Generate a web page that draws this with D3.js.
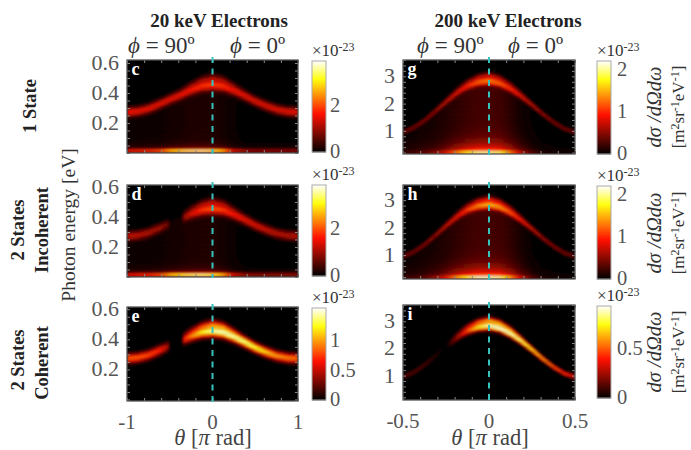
<!DOCTYPE html>
<html><head><meta charset="utf-8">
<style>
html,body{margin:0;padding:0;background:#fff}
svg{display:block}
text{font-family:"Liberation Serif",serif}
</style>
<script src="https://cdn.jsdelivr.net/npm/d3@7"></script>
</head><body><svg id="c" width="691" height="450"></svg>
<script>
// --- data ---
const thetaKnots20  = [-1,-.875,-.75,-.625,-.52,-.5,-.36,-.33,-.25,-.125,0,.125,.25,.375,.5,.625,.75,.875,1];
const thetaKnots200 = [-.5,-.4375,-.375,-.3125,-.26,-.25,-.18,-.165,-.125,-.0625,0,.0625,.125,.1875,.25,.3125,.375,.4375,.5];
const ridge20  = [.272,.278,.295,.325,.352,.358,.395,.405,.43,.46,.472,.46,.425,.385,.345,.315,.29,.276,.272];
const ridge200 = [.95,1.12,1.38,1.72,2.02,2.08,2.46,2.53,2.7,2.86,2.92,2.82,2.6,2.3,1.96,1.62,1.32,1.08,.95];
const sigma20  = [.02,.02,.02,.02,.02,.02,.021,.021,.022,.023,.024,.023,.022,.021,.02,.02,.02,.02,.02];
const sigma200 = [.05,.05,.055,.06,.07,.07,.08,.08,.085,.09,.095,.09,.085,.075,.065,.055,.05,.05,.05];
const split20  = [0,0,0,0,0,0,.004,.005,.008,.013,.016,.013,.007,.002,0,0,0,0,0];
const split200 = [0,0,0,0,.01,.01,.03,.035,.05,.07,.08,.07,.05,.025,0,0,0,0,0];
const ampC = [1.55,1.5,1.45,1.42,1.4,1.4,1.42,1.45,1.5,1.65,1.75,1.7,1.55,1.5,1.45,1.45,1.45,1.5,1.55];
const ampD = [1.2,1.15,1.05,.95,.6,0,.0,.85,1.25,1.65,1.85,1.75,1.6,1.5,1.4,1.3,1.2,1.15,1.2];
const ampE = [.85,.85,.8,.72,.45,0,0,.7,.95,1.25,1.45,1.5,1.45,1.4,1.3,1.15,1.0,.95,.9];
const ampG = [.42,.42,.45,.5,.56,.58,.68,.7,.8,1.0,1.1,1.0,.88,.76,.66,.56,.5,.45,.42];
const ampH = [.42,.42,.45,.5,.58,.6,.72,.75,.9,1.15,1.3,1.2,1.02,.85,.72,.6,.52,.46,.42];
const ampI = [.16,.14,.12,.07,0,0,.28,.32,.5,.75,.9,.93,.9,.82,.72,.62,.52,.44,.38];
const bandC = [1.6,1.7,1.8,2.0,2.6,2.8,3.2,3.3,3.4,3.5,3.3,2.7,1.5,1.1,1.0,1.0,1.0,1.0,1.0];
const bandD = [1.6,1.7,1.8,2.0,2.6,2.8,3.2,3.3,3.4,3.5,3.3,2.7,1.5,1.1,1.0,1.0,1.0,1.0,1.0];
const bandE = new Array(19).fill(0);
const bandG = [.2,.25,.35,.5,.75,.85,1.35,1.45,1.7,1.95,1.95,1.85,1.3,.7,.35,.15,.1,.08,.05];
const bandH = [.2,.25,.35,.55,.8,.9,1.45,1.55,1.8,2.05,2.05,1.95,1.4,.75,.35,.15,.1,.08,.05];
const bandI = new Array(19).fill(0);
const floorC = [.08,.08,.09,.1,.12,.13,.16,.17,.19,.2,.2,.14,.06,.01,0,0,0,0,0];
const floorD = [.08,.08,.09,.1,.12,.13,.16,.17,.19,.2,.2,.14,.06,.01,0,0,0,0,0];
const floorE = new Array(19).fill(0);
const floorG = [.04,.05,.07,.09,.12,.13,.18,.19,.22,.25,.26,.24,.16,.07,.02,0,0,0,0];
const floorH = [.04,.05,.07,.09,.12,.13,.18,.19,.22,.25,.26,.24,.18,.09,.02,0,0,0,0];
const floorI = new Array(19).fill(0);
const ticksLeftX = [-1,0,1], ticksRightX = [-.5,0,.5];
const ticksLeftY = [.2,.4,.6], ticksRightY = [1,2,3];
const rowLabels = [["1 State"],["2 States","Incoherent"],["2 States","Coherent"]];

const hot = d3.scaleLinear().domain([0,.42,.8,1]).range(["#000000","#ff1000","#ffff10","#ffffff"]).clamp(true);
const svg = d3.select("#c");

const panels = [
 {l:"c",x:[127,298],y:[60,153],th:thetaKnots20,e:[0,.62],rid:ridge20,sig:sigma20,spl:split20,amp:ampC,band:bandC,flo:floorC,cmax:3.87,cb:[61,152],cbT:[0,2],yT:ticksLeftY,xT:null,bw:.009,gs:.024,gk:.35,mult:.05},
 {l:"d",x:[127,298],y:[185,277],th:thetaKnots20,e:[0,.613],rid:ridge20,sig:sigma20,spl:split20,amp:ampD,band:bandD,flo:floorD,cmax:3.83,cb:[185,276],cbT:[0,2],yT:ticksLeftY,xT:null,bw:.009,gs:.024,gk:.35,mult:.05},
 {l:"e",x:[127,298],y:[307,401],th:thetaKnots20,e:[-.01,.615],rid:ridge20,sig:sigma20,spl:split20,amp:ampE,band:bandE,flo:floorE,cmax:1.55,cb:[308,400],cbT:[0,.5,1],yT:ticksLeftY,xT:ticksLeftX,bw:.006,gs:.03,gk:0,mult:.05},
 {l:"g",x:[403,575],y:[60,154],th:thetaKnots200,e:[.15,3.6],rid:ridge200,sig:sigma200,spl:split200,amp:ampG,band:bandG,flo:floorG,cmax:2.2,cb:[61,154],cbT:[0,1,2],yT:ticksRightY,xT:null,bw:.055,gs:.27,gk:.6,mult:.2},
 {l:"h",x:[403,575],y:[185,279],th:thetaKnots200,e:[.13,3.55],rid:ridge200,sig:sigma200,spl:split200,amp:ampH,band:bandH,flo:floorH,cmax:2.2,cb:[186,279],cbT:[0,1,2],yT:ticksRightY,xT:null,bw:.055,gs:.27,gk:.6,mult:.2},
 {l:"i",x:[403,575],y:[305,400],th:thetaKnots200,e:[.1,3.6],rid:ridge200,sig:sigma200,spl:split200,amp:ampI,band:bandI,flo:floorI,cmax:.92,cb:[306,398],cbT:[0,.5],yT:ticksRightY,xT:ticksRightX,bw:.05,gs:.28,gk:0,mult:.2}
];

const defs = svg.append("defs");
defs.append("filter").attr("id","soft").attr("x","-5%").attr("y","-5%").attr("width","110%").attr("height","110%")
  .append("feGaussianBlur").attr("stdDeviation",0.9);

const gauss = (x,s)=>Math.exp(-.5*x*x/(s*s));

panels.forEach((p,i)=>{
  const X = d3.scaleLinear().domain(d3.extent(p.th)).range(p.x);
  const Y = d3.scaleLinear().domain(p.e).range([p.y[1],p.y[0]]);
  const look = a => d3.scaleLinear().domain(p.th).range(a);
  const fR=look(p.rid),fS=look(p.sig),fD=look(p.spl),fA=look(p.amp),fB=look(p.band),fF=look(p.flo);
  const color = v => hot(v/p.cmax);
  const field = (t,E)=>{
    const c=fR(t),s=fS(t),d=fD(t),a=fA(t);
    const rid=a*Math.max(gauss(E-(c-d),s),.72*gauss(E-(c+d),s));
    const E0=p.e[0]+(p.mult*.3);
    const b=fB(t);
    const band=b*gauss(E-E0,p.bw);
    const glow=b*p.gk*Math.exp(-Math.max(0,E-E0)/p.gs);
    const below=fF(t)*(E<c?1:Math.exp(-(E-c)/(s*.6)));
    return rid+Math.max(band,glow)+below;
  };
  const cols=d3.range(p.x[0],p.x[1],1.5), rows=d3.range(p.y[0],p.y[1],1.25);
  const cells=[];
  cols.forEach(px=>rows.forEach(py=>{
    const t=X.invert(px+.75),E=Y.invert(py+.625);
    const v=field(t,E);
    if(v>.0015*p.cmax) cells.push({t,E,v});
  }));
  const clipId="clip"+p.l;
  defs.append("clipPath").attr("id",clipId).append("rect")
    .attr("x",p.x[0]).attr("y",p.y[0]).attr("width",p.x[1]-p.x[0]).attr("height",p.y[1]-p.y[0]);
  const g=svg.append("g").attr("class","panel");
  g.append("rect").attr("x",p.x[0]).attr("y",p.y[0]).attr("width",p.x[1]-p.x[0]).attr("height",p.y[1]-p.y[0]).attr("fill","#000");
  g.append("g").attr("clip-path",`url(#${clipId})`).append("g").attr("filter","url(#soft)")
    .selectAll("rect").data(cells).join("rect")
    .attr("x",d=>X(d.t)-.75).attr("y",d=>Y(d.E)-.625).attr("width",1.8).attr("height",1.55)
    .attr("fill",d=>color(d.v));

  // axes: inward ticks on all four sides
  const xMajor=d3.range(-10,11).map(k=>k*(d3.max(p.th)/5)).filter(v=>Math.abs(v)<=d3.max(p.th)+1e-9);
  const yMinor=d3.range(Math.ceil(p.e[0]/p.mult),Math.floor(p.e[1]/p.mult)+1).map(k=>k*p.mult);
  const tickStyle=s=>{s.selectAll(".domain").remove();s.selectAll("line").attr("stroke","#8a8a8a").attr("stroke-width",1);s.selectAll("text").remove();};
  g.append("g").attr("transform",`translate(0,${p.y[1]})`).call(d3.axisBottom(X).tickValues(xMajor).tickSize(-3)).call(tickStyle);
  g.append("g").attr("transform",`translate(0,${p.y[0]})`).call(d3.axisTop(X).tickValues(xMajor).tickSize(-3)).call(tickStyle);
  g.append("g").attr("transform",`translate(${p.x[0]},0)`).call(d3.axisLeft(Y).tickValues(yMinor).tickSize(-3)).call(tickStyle);
  g.append("g").attr("transform",`translate(${p.x[1]},0)`).call(d3.axisRight(Y).tickValues(yMinor).tickSize(-3)).call(tickStyle);
  g.append("rect").attr("x",p.x[0]).attr("y",p.y[0]).attr("width",p.x[1]-p.x[0]).attr("height",p.y[1]-p.y[0])
    .attr("fill","none").attr("stroke","#555").attr("stroke-width",1.3);

  // tick labels
  g.selectAll(".yl").data(p.yT).join("text").attr("class","yl")
    .attr("x",p.x[0]-8).attr("y",d=>Y(d)).attr("dy","0.32em").attr("text-anchor","end")
    .attr("font-size",22).attr("fill","#555").text(d=>d);
  if(p.xT) g.selectAll(".xl").data(p.xT).join("text").attr("class","xl")
    .attr("x",d=>X(d)).attr("y",p.y[1]+28).attr("text-anchor","middle")
    .attr("font-size",21).attr("fill","#555").text(d=>d);

  // dashed marker at theta = 0
  g.append("line").attr("x1",X(0)).attr("x2",X(0)).attr("y1",p.y[0]-3).attr("y2",p.y[1]+1)
    .attr("stroke","#36c3c0").attr("stroke-width",2).attr("stroke-dasharray","6,5.5");

  // panel letter
  g.append("text").attr("x",p.x[0]+4.5).attr("y",p.y[0]+15).attr("font-size",18).attr("font-weight","bold").attr("fill","#fff").text(p.l);

  // colour bar
  const cx=i<3?[312,326]:[597,611];
  const CB=d3.scaleLinear().domain([0,p.cmax]).range([p.cb[1],p.cb[0]]);
  const cbVals=d3.range(p.cb[0],p.cb[1],1).map(py=>CB.invert(py+.5));
  const cg=svg.append("g");
  cg.selectAll("rect").data(cbVals).join("rect")
    .attr("x",cx[0]).attr("width",cx[1]-cx[0]).attr("y",d=>CB(d)-.5).attr("height",1.4).attr("fill",d=>color(d));
  cg.append("rect").attr("x",cx[0]).attr("y",p.cb[0]).attr("width",cx[1]-cx[0]).attr("height",p.cb[1]-p.cb[0])
    .attr("fill","none").attr("stroke","#aaa").attr("stroke-width",1);
  cg.selectAll(".cl").data(p.cbT).join("text").attr("class","cl")
    .attr("x",cx[1]+(i<3?4:6)).attr("y",d=>CB(d)-(d===0?1:0)).attr("dy","0.32em")
    .attr("font-size",20.5).attr("fill","#555").text(d=>d);
  const mx=cg.append("text").attr("x",cx[0]).attr("y",p.cb[0]-5).attr("font-size",17).attr("fill","#333");
  mx.append("tspan").text("×10");
  mx.append("tspan").attr("dy",-5).attr("font-size",12).text("-23");

  // right-hand quantity labels
  if(i>=3){
    const cy=[107,233,352][i-3];
    svg.append("text").attr("transform",`translate(661,${cy}) rotate(-90)`).attr("text-anchor","middle")
      .attr("font-size",20.5).attr("font-style","italic").attr("fill","#333").text("dσ /dΩdω");
    const b=svg.append("text").attr("transform",`translate(684,${cy}) rotate(-90)`).attr("text-anchor","middle")
      .attr("font-size",17).attr("fill","#333");
    [["[m",0],["2",-5],["sr",5],["-1",-5],["eV",5],["-1",-5],["]",5]].forEach(([s,dy])=>{
      b.append("tspan").attr("dy",dy).attr("font-size",dy<0?12:17).text(s);
    });
  }
});

// titles
const boldTitle=(x,s)=>svg.append("text").attr("x",x).attr("y",27).attr("text-anchor","middle").attr("font-size",19).attr("font-weight","bold").attr("fill","#222").text(s);
boldTitle(219,"20 keV Electrons");
boldTitle(508,"200 keV Electrons");
const phi=(x,s)=>{const t=svg.append("text").attr("x",x).attr("y",53).attr("font-size",23).attr("fill","#333");
  t.append("tspan").attr("font-style","italic").text("ϕ");t.append("tspan").text(" = "+s);};
phi(128,"90º");phi(230,"0º");phi(417,"90º");phi(508,"0º");

// x labels
const thetaLabel=x=>{const t=svg.append("text").attr("x",x).attr("y",445).attr("text-anchor","middle").attr("font-size",22.5).attr("fill","#444");
  t.append("tspan").attr("font-style","italic").text("θ");t.append("tspan").text(" [");t.append("tspan").attr("font-style","italic").text("π");t.append("tspan").text(" rad]");};
thetaLabel(213);thetaLabel(490);

svg.append("text").attr("transform","translate(75,225) rotate(-90)").attr("text-anchor","middle").attr("font-size",19.5).attr("fill","#333").text("Photon energy [eV]");

rowLabels.forEach((lines,i)=>{
  const cy=[[106],[230,230],[360,363]][i];
  const xs=lines.length===1?[36]:[24,48];
  lines.forEach((s,j)=>svg.append("text").attr("transform",`translate(${xs[j]},${cy[j]}) rotate(-90)`).attr("text-anchor","middle")
    .attr("font-size",18.5).attr("font-weight","bold").attr("fill","#222").text(s));
});
</script></body></html>
